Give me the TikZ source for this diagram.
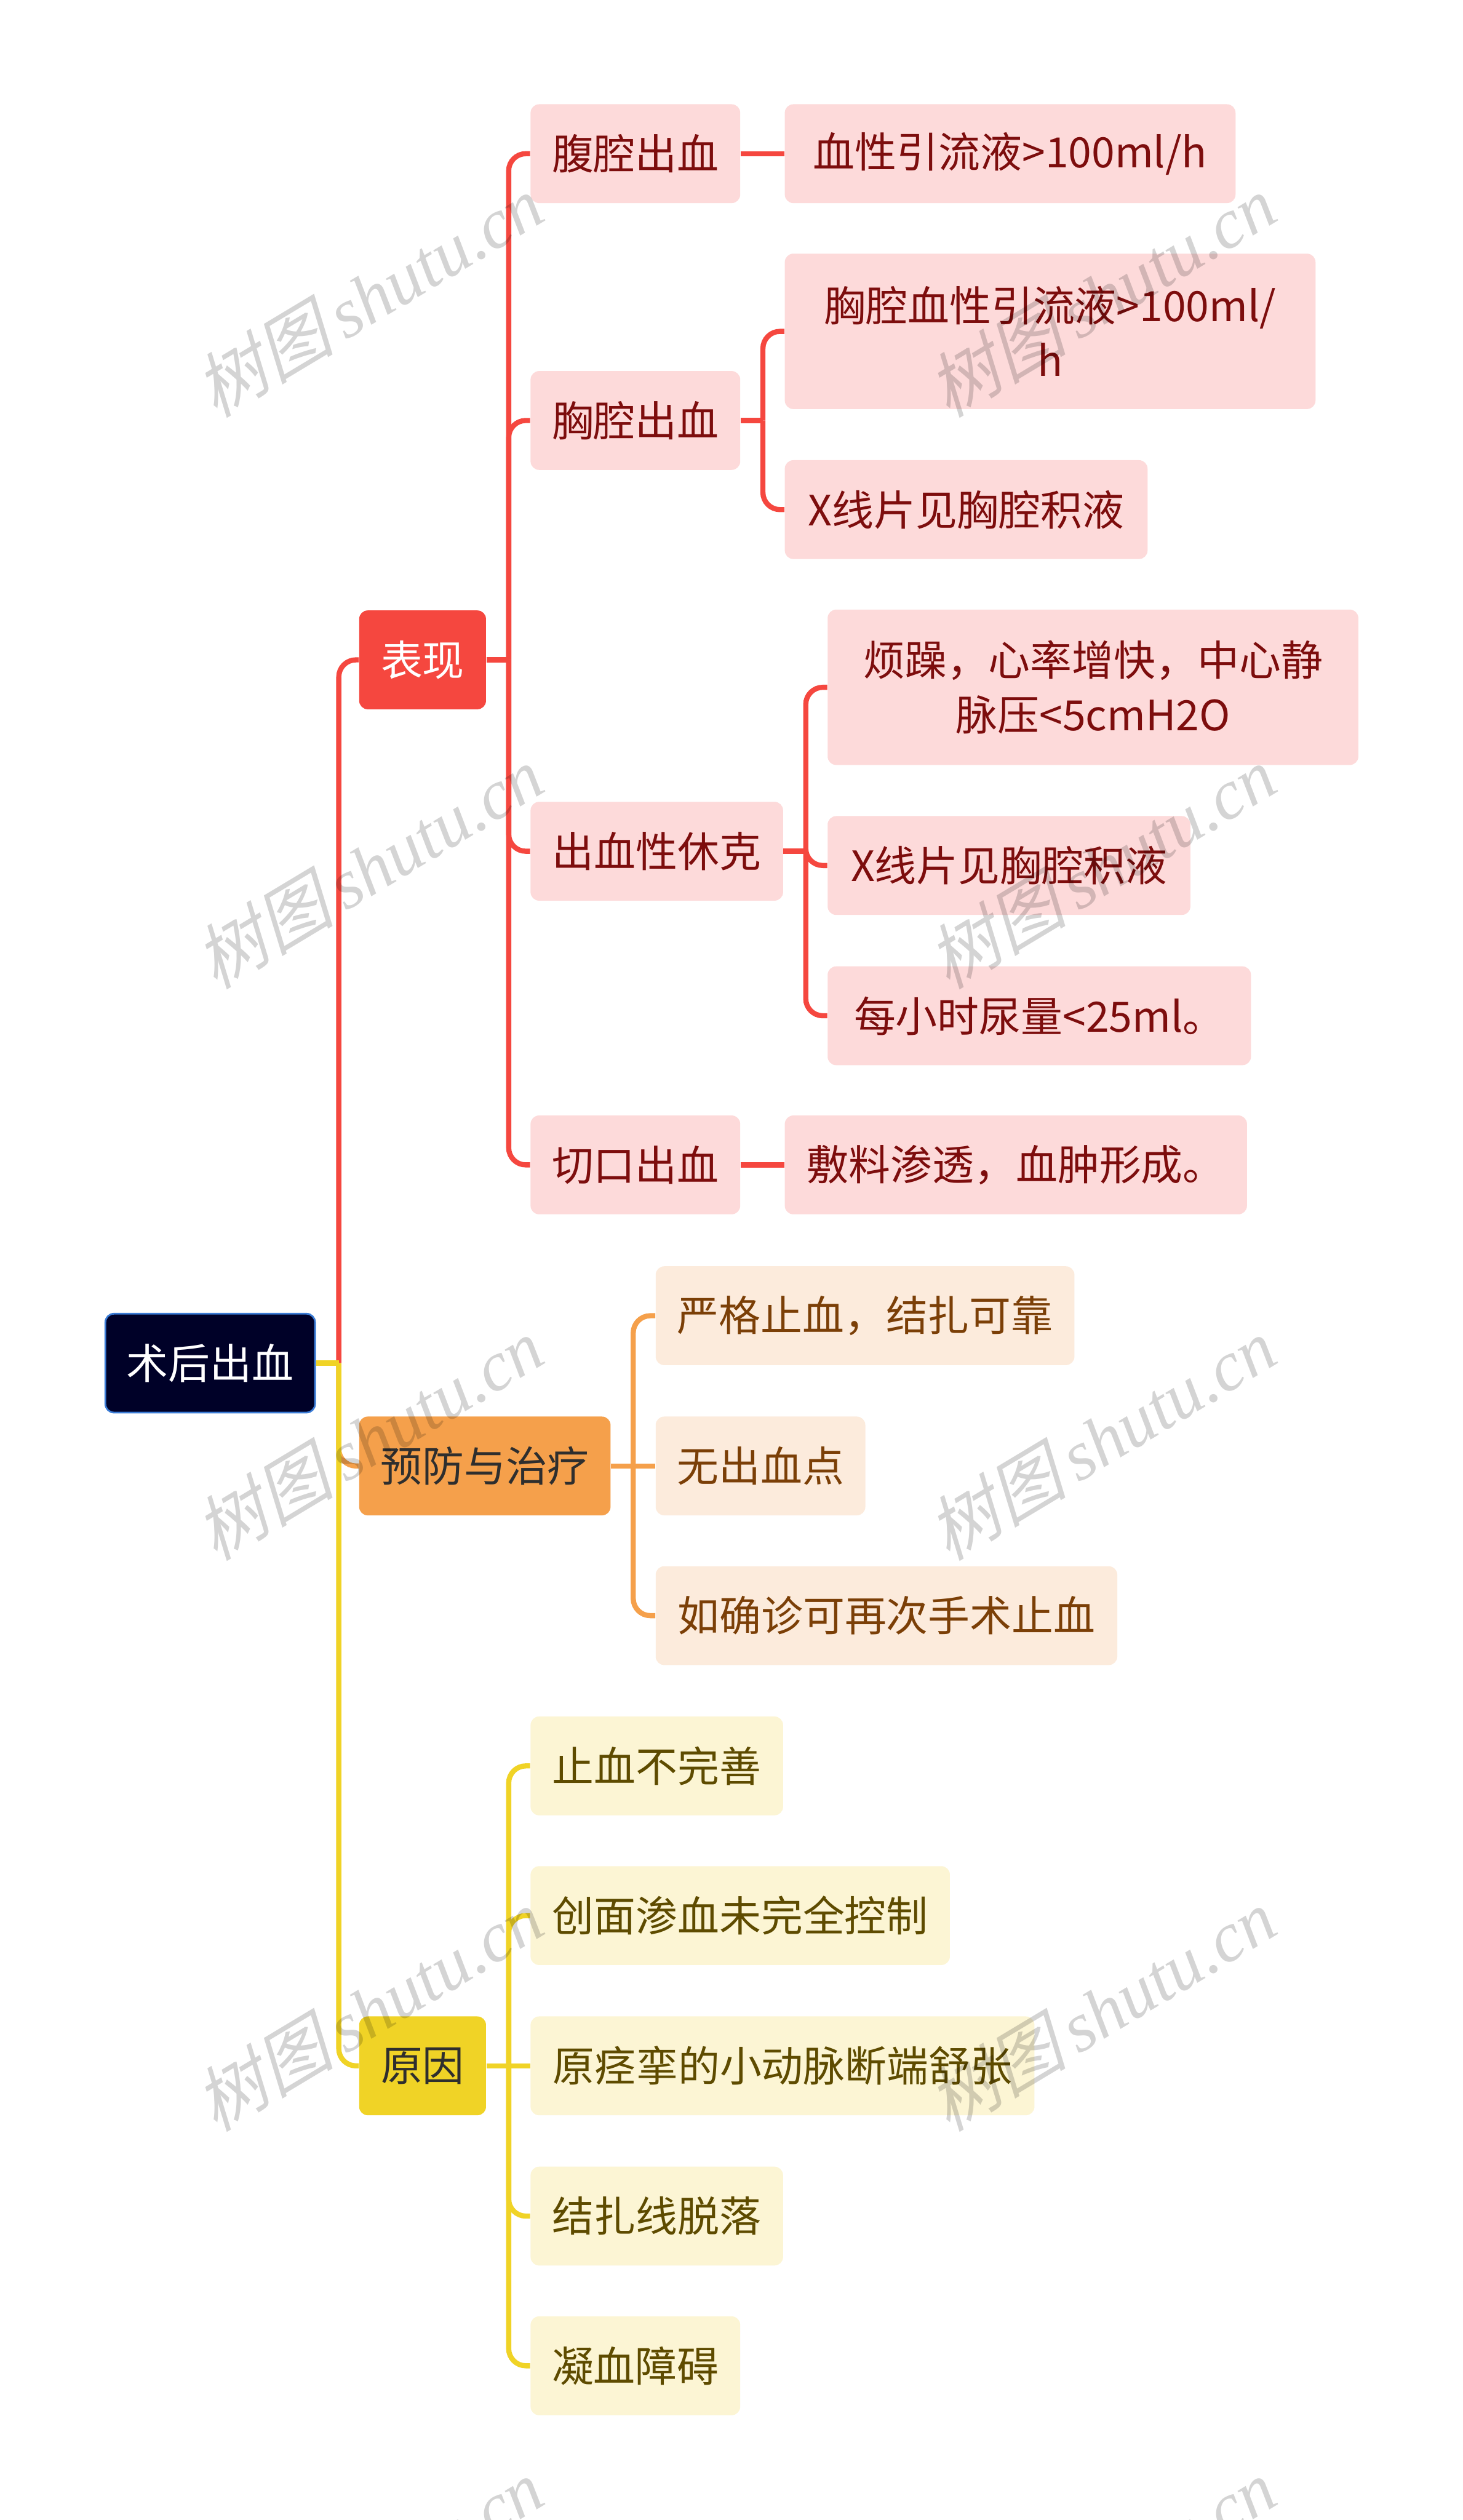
\documentclass[tikz,border=0pt]{standalone}
\usepackage{fontspec}
\setmainfont{Noto Sans CJK SC}
\newfontfamily\wmcjk[FakeSlant=0.25]{Noto Sans CJK SC}
\newfontfamily\wmlat{Liberation Serif}
\definecolor{redL}{HTML}{F5473F}
\definecolor{pinkF}{HTML}{FDDADA}
\definecolor{redT}{HTML}{7D0D0D}
\definecolor{orgL}{HTML}{F5A04B}
\definecolor{orgF}{HTML}{FCEBDC}
\definecolor{orgT}{HTML}{7B3F07}
\definecolor{yelL}{HTML}{F0D326}
\definecolor{yelF}{HTML}{FCF5D4}
\definecolor{yelT}{HTML}{5E4B00}
\definecolor{rootF}{HTML}{000128}
\definecolor{rootB}{HTML}{3B7CD6}
\definecolor{darkT}{HTML}{2E2E2E}
\newcommand\nodefont{\fontsize{20.8pt}{27.3pt}\selectfont}
\tikzset{
  box/.style={rounded corners=0.15cm, minimum height=1.73cm, inner xsep=0pt,
    inner ysep=0pt, font=\nodefont, anchor=west, align=center},
  tall/.style={minimum height=2.72cm},
  rootbox/.style={box, fill=rootF, draw=rootB, line width=0.03cm, text=white},
  redmain/.style={box, fill=redL, text=white},
  orgmain/.style={box, fill=orgL, text=darkT},
  yelmain/.style={box, fill=yelL, text=darkT},
  redsub/.style={box, fill=pinkF, text=redT},
  orgsub/.style={box, fill=orgF, text=orgT},
  yelsub/.style={box, fill=yelF, text=yelT},
  conn/.style={line width=0.09cm, rounded corners=0.3cm},
  redc/.style={conn, draw=redL},
  orgc/.style={conn, draw=orgL},
  yelc/.style={conn, draw=yelL},
  wm/.style={rotate=31, text=black, text opacity=0.17, font=\fontsize{35pt}{40pt}\selectfont}
}
\begin{document}
\begin{tikzpicture}
\useasboundingbox (0,0) rectangle (25.6,-44.11);
\fill[white] (0,0) rectangle (25.6,-44.11);
\clip (0,0) rectangle (25.6,-44.11);

% root and main branches
\node[rootbox, minimum width=3.67cm] (root) at (1.83,-23.86) {术后出血};
\node[redmain, minimum width=2.22cm] (b1) at (6.28,-11.55) {表现};
\node[orgmain, minimum width=4.40cm] (b2) at (6.28,-25.66) {预防与治疗};
\node[yelmain, minimum width=2.22cm] (b3) at (6.28,-36.16) {原因};

% 表现 children
\node[redsub, minimum width=3.67cm] (c1) at (9.28,-2.69) {腹腔出血};
\node[redsub, minimum width=3.67cm] (c2) at (9.28,-7.36) {胸腔出血};
\node[redsub, minimum width=4.42cm] (c3) at (9.28,-14.90) {出血性休克};
\node[redsub, minimum width=3.67cm] (c4) at (9.28,-20.39) {切口出血};

\node[redsub, minimum width=7.89cm] (d1) at (13.73,-2.69) {血性引流液>100ml/h};
\node[redsub, tall, minimum width=9.29cm] (d2) at (13.73,-5.80) {胸腔血性引流液>100ml/\\h};
\node[redsub, minimum width=6.35cm] (d3) at (13.73,-8.92) {X线片见胸腔积液};
\node[redsub, tall, minimum width=9.29cm] (e1) at (14.48,-12.03) {烦躁，心率增快，中心静\\脉压<5cmH2O};
\node[redsub, minimum width=6.35cm] (e2) at (14.48,-15.15) {X线片见胸腔积液};
\node[redsub, minimum width=7.41cm] (e3) at (14.48,-17.78) {每小时尿量<25ml。};
\node[redsub, minimum width=8.09cm] (d4) at (13.73,-20.39) {敷料渗透，血肿形成。};

% 预防与治疗 children
\node[orgsub, minimum width=7.33cm] (f1) at (11.47,-23.03) {严格止血，结扎可靠};
\node[orgsub, minimum width=3.67cm] (f2) at (11.47,-25.66) {无出血点};
\node[orgsub, minimum width=8.08cm] (f3) at (11.47,-28.28) {如确诊可再次手术止血};

% 原因 children
\node[yelsub, minimum width=4.42cm] (g1) at (9.28,-30.91) {止血不完善};
\node[yelsub, minimum width=7.34cm] (g2) at (9.28,-33.53) {创面渗血未完全控制};
\node[yelsub, minimum width=8.82cm] (g3) at (9.28,-36.16) {原痉挛的小动脉断端舒张};
\node[yelsub, minimum width=4.42cm] (g4) at (9.28,-38.79) {结扎线脱落};
\node[yelsub, minimum width=3.67cm] (g5) at (9.28,-41.41) {凝血障碍};

% junction coordinates
\coordinate (t0) at ([xshift=0.40cm]root.east);
\coordinate (t1) at ([xshift=0.39cm]b1.east);
\coordinate (t2) at ([xshift=0.39cm]b2.east);
\coordinate (t3) at ([xshift=0.39cm]b3.east);
\coordinate (t4) at ([xshift=0.39cm]c2.east);
\coordinate (t5) at ([xshift=0.39cm]c3.east);

% root connectors
\draw[redc] (t0) |- (b1.west);
\draw[orgc] (t0) |- (b2.west);
\draw[yelc] (t0) |- (b3.west);
\draw[yelc] (root.east) -- (t0);

% 表现 connectors
\draw[redc] (b1.east) -- (t1);
\draw[redc] (t1) |- (c1.west);
\draw[redc] (t1) |- (c2.west);
\draw[redc] (t1) |- (c3.west);
\draw[redc] (t1) |- (c4.west);
\draw[redc] (c1.east) -- (d1.west);
\draw[redc] (c4.east) -- (d4.west);
\draw[redc] (c2.east) -- (t4);
\draw[redc] (t4) |- (d2.west);
\draw[redc] (t4) |- (d3.west);
\draw[redc] (c3.east) -- (t5);
\draw[redc] (t5) |- (e1.west);
\draw[redc] (t5) |- (e2.west);
\draw[redc] (t5) |- (e3.west);

% 预防与治疗 connectors
\draw[orgc] (b2.east) -- (t2);
\draw[orgc] (t2) |- (f1.west);
\draw[orgc] (t2) -- (f2.west);
\draw[orgc] (t2) |- (f3.west);

% 原因 connectors
\draw[yelc] (b3.east) -- (t3);
\draw[yelc] (t3) |- (g1.west);
\draw[yelc] (t3) |- (g2.west);
\draw[yelc] (t3) -- (g3.west);
\draw[yelc] (t3) |- (g4.west);
\draw[yelc] (t3) |- (g5.west);

% watermarks
\foreach \wy [count=\i] in {5.18,15.18,25.18,35.18,45.16}{
  \node[wm] (wl\i) at (6.45,-\wy) {{\wmcjk 树图}\,{\wmlat\itshape shutu.cn}};
  \node[wm] (wr\i) at (19.27,-\wy) {{\wmcjk 树图}\,{\wmlat\itshape shutu.cn}};
}
\end{tikzpicture}
\end{document}
